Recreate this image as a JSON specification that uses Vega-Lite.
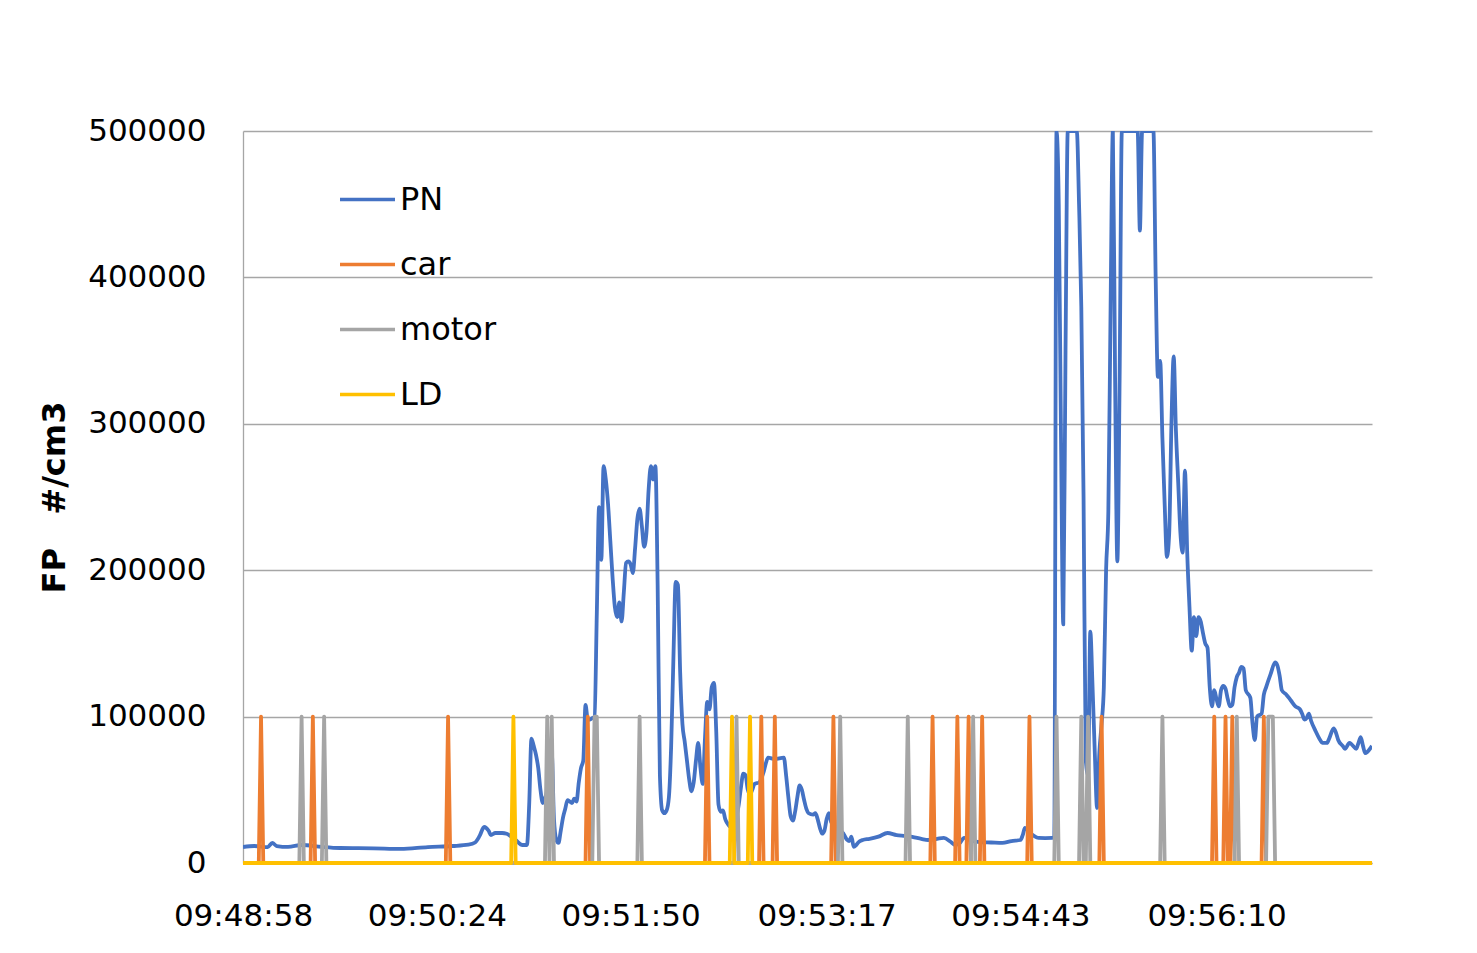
{
  "$schema": "https://vega.github.io/schema/vega-lite/v6.json",
  "width": 1129,
  "height": 732,
  "autosize": {"type": "none"},
  "padding": {"left": 243, "top": 131, "right": 105, "bottom": 90},
  "background": "white",
  "config": {
    "view": {"stroke": null},
    "font": "DejaVu Sans",
    "axis": {"labelFont": "DejaVu Sans", "labelFontSize": 31, "labelColor": "#000000", "ticks": false, "tickSize": 0}
  },
  "data": {
    "values": [
      {"t":"09:48:58","s":"PN","v":10900},{"t":"09:49:03","s":"PN","v":11600},{"t":"09:49:09","s":"PN","v":10900},{"t":"09:49:11","s":"PN","v":13700},{"t":"09:49:13","s":"PN","v":11600},{"t":"09:49:18","s":"PN","v":11000},{"t":"09:49:24","s":"PN","v":12300},{"t":"09:49:33","s":"PN","v":11000},{"t":"09:49:41","s":"PN","v":10250},{"t":"09:49:56","s":"PN","v":10000},{"t":"09:50:08","s":"PN","v":9600},{"t":"09:50:20","s":"PN","v":10900},{"t":"09:50:31","s":"PN","v":11600},{"t":"09:50:38","s":"PN","v":12500},{"t":"09:50:41","s":"PN","v":14000},{"t":"09:50:43","s":"PN","v":18500},{"t":"09:50:45","s":"PN","v":24600},{"t":"09:50:47","s":"PN","v":22000},{"t":"09:50:48","s":"PN","v":19100},{"t":"09:50:50","s":"PN","v":20500},{"t":"09:50:53","s":"PN","v":20500},{"t":"09:50:55","s":"PN","v":20000},{"t":"09:50:57","s":"PN","v":18000},{"t":"09:50:59","s":"PN","v":15700},{"t":"09:51:02","s":"PN","v":12300},{"t":"09:51:04","s":"PN","v":12300},{"t":"09:51:05","s":"PN","v":40000},{"t":"09:51:06","s":"PN","v":85000},{"t":"09:51:07","s":"PN","v":80000},{"t":"09:51:08","s":"PN","v":74000},{"t":"09:51:09","s":"PN","v":65000},{"t":"09:51:10","s":"PN","v":50000},{"t":"09:51:11","s":"PN","v":41000},{"t":"09:51:12","s":"PN","v":44400},{"t":"09:51:13","s":"PN","v":50000},{"t":"09:51:14","s":"PN","v":65000},{"t":"09:51:15","s":"PN","v":75000},{"t":"09:51:16","s":"PN","v":30000},{"t":"09:51:17","s":"PN","v":16000},{"t":"09:51:18","s":"PN","v":13700},{"t":"09:51:19","s":"PN","v":22000},{"t":"09:51:20","s":"PN","v":31000},{"t":"09:51:21","s":"PN","v":37000},{"t":"09:51:22","s":"PN","v":43000},{"t":"09:51:23","s":"PN","v":42000},{"t":"09:51:24","s":"PN","v":41000},{"t":"09:51:25","s":"PN","v":44000},{"t":"09:51:26","s":"PN","v":42000},{"t":"09:51:27","s":"PN","v":55000},{"t":"09:51:28","s":"PN","v":65000},{"t":"09:51:29","s":"PN","v":70000},{"t":"09:51:30","s":"PN","v":108000},{"t":"09:51:31","s":"PN","v":98000},{"t":"09:51:32","s":"PN","v":98000},{"t":"09:51:33","s":"PN","v":99000},{"t":"09:51:34","s":"PN","v":100000},{"t":"09:51:35","s":"PN","v":170000},{"t":"09:51:36","s":"PN","v":243000},{"t":"09:51:37","s":"PN","v":207000},{"t":"09:51:38","s":"PN","v":271000},{"t":"09:51:39","s":"PN","v":262000},{"t":"09:51:40","s":"PN","v":245000},{"t":"09:51:41","s":"PN","v":220000},{"t":"09:51:42","s":"PN","v":195000},{"t":"09:51:43","s":"PN","v":175000},{"t":"09:51:44","s":"PN","v":168000},{"t":"09:51:45","s":"PN","v":178000},{"t":"09:51:46","s":"PN","v":165000},{"t":"09:51:47","s":"PN","v":185000},{"t":"09:51:48","s":"PN","v":205000},{"t":"09:51:49","s":"PN","v":206000},{"t":"09:51:50","s":"PN","v":204000},{"t":"09:51:51","s":"PN","v":198000},{"t":"09:51:52","s":"PN","v":215000},{"t":"09:51:53","s":"PN","v":235000},{"t":"09:51:54","s":"PN","v":242000},{"t":"09:51:55","s":"PN","v":230000},{"t":"09:51:56","s":"PN","v":216000},{"t":"09:51:57","s":"PN","v":225000},{"t":"09:51:58","s":"PN","v":255000},{"t":"09:51:59","s":"PN","v":271000},{"t":"09:52:00","s":"PN","v":262000},{"t":"09:52:01","s":"PN","v":271000},{"t":"09:52:02","s":"PN","v":190000},{"t":"09:52:03","s":"PN","v":60000},{"t":"09:52:04","s":"PN","v":36000},{"t":"09:52:05","s":"PN","v":34000},{"t":"09:52:06","s":"PN","v":36000},{"t":"09:52:07","s":"PN","v":45000},{"t":"09:52:08","s":"PN","v":80000},{"t":"09:52:09","s":"PN","v":140000},{"t":"09:52:10","s":"PN","v":192000},{"t":"09:52:11","s":"PN","v":190000},{"t":"09:52:12","s":"PN","v":130000},{"t":"09:52:13","s":"PN","v":95000},{"t":"09:52:14","s":"PN","v":83000},{"t":"09:52:15","s":"PN","v":70000},{"t":"09:52:16","s":"PN","v":57000},{"t":"09:52:17","s":"PN","v":49000},{"t":"09:52:18","s":"PN","v":55000},{"t":"09:52:19","s":"PN","v":70000},{"t":"09:52:20","s":"PN","v":82000},{"t":"09:52:21","s":"PN","v":65000},{"t":"09:52:22","s":"PN","v":54000},{"t":"09:52:23","s":"PN","v":85000},{"t":"09:52:24","s":"PN","v":110000},{"t":"09:52:25","s":"PN","v":105000},{"t":"09:52:26","s":"PN","v":120000},{"t":"09:52:27","s":"PN","v":123000},{"t":"09:52:28","s":"PN","v":90000},{"t":"09:52:29","s":"PN","v":40000},{"t":"09:52:30","s":"PN","v":35000},{"t":"09:52:31","s":"PN","v":36000},{"t":"09:52:32","s":"PN","v":30000},{"t":"09:52:33","s":"PN","v":27000},{"t":"09:52:34","s":"PN","v":25000},{"t":"09:52:35","s":"PN","v":27000},{"t":"09:52:36","s":"PN","v":30000},{"t":"09:52:37","s":"PN","v":32000},{"t":"09:52:38","s":"PN","v":40000},{"t":"09:52:39","s":"PN","v":52000},{"t":"09:52:40","s":"PN","v":61000},{"t":"09:52:41","s":"PN","v":60000},{"t":"09:52:42","s":"PN","v":50000},{"t":"09:52:43","s":"PN","v":47000},{"t":"09:52:44","s":"PN","v":50000},{"t":"09:52:45","s":"PN","v":54000},{"t":"09:52:47","s":"PN","v":55000},{"t":"09:52:49","s":"PN","v":62000},{"t":"09:52:50","s":"PN","v":68000},{"t":"09:52:51","s":"PN","v":72000},{"t":"09:52:54","s":"PN","v":71000},{"t":"09:52:58","s":"PN","v":72000},{"t":"09:52:59","s":"PN","v":60000},{"t":"09:53:00","s":"PN","v":45000},{"t":"09:53:01","s":"PN","v":32000},{"t":"09:53:02","s":"PN","v":29000},{"t":"09:53:03","s":"PN","v":35000},{"t":"09:53:04","s":"PN","v":45000},{"t":"09:53:05","s":"PN","v":53000},{"t":"09:53:06","s":"PN","v":50000},{"t":"09:53:07","s":"PN","v":43000},{"t":"09:53:08","s":"PN","v":37000},{"t":"09:53:09","s":"PN","v":34000},{"t":"09:53:11","s":"PN","v":33000},{"t":"09:53:12","s":"PN","v":34000},{"t":"09:53:13","s":"PN","v":30000},{"t":"09:53:14","s":"PN","v":24000},{"t":"09:53:15","s":"PN","v":20000},{"t":"09:53:16","s":"PN","v":22000},{"t":"09:53:17","s":"PN","v":30000},{"t":"09:53:18","s":"PN","v":34000},{"t":"09:53:19","s":"PN","v":28000},{"t":"09:53:20","s":"PN","v":26000},{"t":"09:53:22","s":"PN","v":22000},{"t":"09:53:24","s":"PN","v":21000},{"t":"09:53:26","s":"PN","v":16000},{"t":"09:53:27","s":"PN","v":15000},{"t":"09:53:28","s":"PN","v":18000},{"t":"09:53:29","s":"PN","v":11000},{"t":"09:53:30","s":"PN","v":12000},{"t":"09:53:31","s":"PN","v":14000},{"t":"09:53:33","s":"PN","v":15700},{"t":"09:53:36","s":"PN","v":16500},{"t":"09:53:40","s":"PN","v":18000},{"t":"09:53:44","s":"PN","v":20500},{"t":"09:53:48","s":"PN","v":19100},{"t":"09:53:52","s":"PN","v":18500},{"t":"09:53:55","s":"PN","v":17800},{"t":"09:53:59","s":"PN","v":16500},{"t":"09:54:02","s":"PN","v":15700},{"t":"09:54:06","s":"PN","v":16500},{"t":"09:54:09","s":"PN","v":17100},{"t":"09:54:12","s":"PN","v":14500},{"t":"09:54:14","s":"PN","v":12300},{"t":"09:54:16","s":"PN","v":13500},{"t":"09:54:18","s":"PN","v":17100},{"t":"09:54:21","s":"PN","v":15500},{"t":"09:54:25","s":"PN","v":14300},{"t":"09:54:30","s":"PN","v":14000},{"t":"09:54:35","s":"PN","v":13700},{"t":"09:54:39","s":"PN","v":15000},{"t":"09:54:43","s":"PN","v":15700},{"t":"09:54:44","s":"PN","v":19000},{"t":"09:54:45","s":"PN","v":23900},{"t":"09:54:47","s":"PN","v":21000},{"t":"09:54:49","s":"PN","v":18500},{"t":"09:54:51","s":"PN","v":17100},{"t":"09:54:54","s":"PN","v":17000},{"t":"09:54:57","s":"PN","v":17100},{"t":"09:54:58","s":"PN","v":18000},{"t":"09:54:59","s":"PN","v":500000},{"t":"09:55:00","s":"PN","v":450000},{"t":"09:55:01","s":"PN","v":290000},{"t":"09:55:02","s":"PN","v":163000},{"t":"09:55:03","s":"PN","v":350000},{"t":"09:55:04","s":"PN","v":500000},{"t":"09:55:08","s":"PN","v":500000},{"t":"09:55:09","s":"PN","v":450000},{"t":"09:55:10","s":"PN","v":380000},{"t":"09:55:11","s":"PN","v":250000},{"t":"09:55:12","s":"PN","v":70000},{"t":"09:55:13","s":"PN","v":60000},{"t":"09:55:14","s":"PN","v":158000},{"t":"09:55:15","s":"PN","v":120000},{"t":"09:55:16","s":"PN","v":75000},{"t":"09:55:17","s":"PN","v":37600},{"t":"09:55:18","s":"PN","v":75000},{"t":"09:55:19","s":"PN","v":95000},{"t":"09:55:20","s":"PN","v":120000},{"t":"09:55:21","s":"PN","v":200000},{"t":"09:55:22","s":"PN","v":240000},{"t":"09:55:23","s":"PN","v":380000},{"t":"09:55:24","s":"PN","v":500000},{"t":"09:55:25","s":"PN","v":330000},{"t":"09:55:26","s":"PN","v":206000},{"t":"09:55:27","s":"PN","v":330000},{"t":"09:55:28","s":"PN","v":500000},{"t":"09:55:35","s":"PN","v":500000},{"t":"09:55:36","s":"PN","v":432000},{"t":"09:55:37","s":"PN","v":500000},{"t":"09:55:42","s":"PN","v":500000},{"t":"09:55:43","s":"PN","v":400000},{"t":"09:55:44","s":"PN","v":332000},{"t":"09:55:45","s":"PN","v":343000},{"t":"09:55:46","s":"PN","v":290000},{"t":"09:55:47","s":"PN","v":245000},{"t":"09:55:48","s":"PN","v":209000},{"t":"09:55:49","s":"PN","v":225000},{"t":"09:55:50","s":"PN","v":300000},{"t":"09:55:51","s":"PN","v":346000},{"t":"09:55:52","s":"PN","v":295000},{"t":"09:55:53","s":"PN","v":260000},{"t":"09:55:54","s":"PN","v":225000},{"t":"09:55:55","s":"PN","v":212000},{"t":"09:55:56","s":"PN","v":268000},{"t":"09:55:57","s":"PN","v":212000},{"t":"09:55:58","s":"PN","v":175000},{"t":"09:55:59","s":"PN","v":145000},{"t":"09:56:00","s":"PN","v":168000},{"t":"09:56:01","s":"PN","v":155000},{"t":"09:56:02","s":"PN","v":168000},{"t":"09:56:03","s":"PN","v":165000},{"t":"09:56:04","s":"PN","v":157000},{"t":"09:56:05","s":"PN","v":150000},{"t":"09:56:06","s":"PN","v":147000},{"t":"09:56:07","s":"PN","v":120000},{"t":"09:56:08","s":"PN","v":107000},{"t":"09:56:09","s":"PN","v":118000},{"t":"09:56:10","s":"PN","v":112000},{"t":"09:56:11","s":"PN","v":107000},{"t":"09:56:12","s":"PN","v":118000},{"t":"09:56:13","s":"PN","v":121000},{"t":"09:56:14","s":"PN","v":119000},{"t":"09:56:15","s":"PN","v":112000},{"t":"09:56:16","s":"PN","v":107000},{"t":"09:56:17","s":"PN","v":108000},{"t":"09:56:18","s":"PN","v":120000},{"t":"09:56:19","s":"PN","v":127000},{"t":"09:56:20","s":"PN","v":130000},{"t":"09:56:21","s":"PN","v":134000},{"t":"09:56:22","s":"PN","v":133000},{"t":"09:56:23","s":"PN","v":118000},{"t":"09:56:25","s":"PN","v":113000},{"t":"09:56:26","s":"PN","v":95000},{"t":"09:56:27","s":"PN","v":84000},{"t":"09:56:28","s":"PN","v":100000},{"t":"09:56:30","s":"PN","v":102000},{"t":"09:56:31","s":"PN","v":115000},{"t":"09:56:32","s":"PN","v":120000},{"t":"09:56:34","s":"PN","v":129000},{"t":"09:56:36","s":"PN","v":137000},{"t":"09:56:37","s":"PN","v":135000},{"t":"09:56:38","s":"PN","v":128000},{"t":"09:56:39","s":"PN","v":118000},{"t":"09:56:41","s":"PN","v":115000},{"t":"09:56:43","s":"PN","v":111000},{"t":"09:56:45","s":"PN","v":107000},{"t":"09:56:47","s":"PN","v":105000},{"t":"09:56:48","s":"PN","v":102000},{"t":"09:56:49","s":"PN","v":98000},{"t":"09:56:50","s":"PN","v":99000},{"t":"09:56:51","s":"PN","v":102000},{"t":"09:56:52","s":"PN","v":97000},{"t":"09:56:54","s":"PN","v":90000},{"t":"09:56:56","s":"PN","v":84000},{"t":"09:56:57","s":"PN","v":82000},{"t":"09:56:59","s":"PN","v":82000},{"t":"09:57:00","s":"PN","v":85000},{"t":"09:57:02","s":"PN","v":92000},{"t":"09:57:03","s":"PN","v":89000},{"t":"09:57:04","s":"PN","v":84000},{"t":"09:57:06","s":"PN","v":80000},{"t":"09:57:07","s":"PN","v":78000},{"t":"09:57:09","s":"PN","v":82000},{"t":"09:57:10","s":"PN","v":81000},{"t":"09:57:12","s":"PN","v":78000},{"t":"09:57:13","s":"PN","v":82000},{"t":"09:57:14","s":"PN","v":86000},{"t":"09:57:15","s":"PN","v":80000},{"t":"09:57:16","s":"PN","v":75000},{"t":"09:57:17","s":"PN","v":76000},{"t":"09:57:19","s":"PN","v":80000},

      {"t":"09:48:58","s":"car","v":0},
      {"t":"09:49:05","s":"car","v":0},{"t":"09:49:06","s":"car","v":100000},{"t":"09:49:07","s":"car","v":0},
      {"t":"09:49:28","s":"car","v":0},{"t":"09:49:29","s":"car","v":100000},{"t":"09:49:30","s":"car","v":0},
      {"t":"09:50:28","s":"car","v":0},{"t":"09:50:29","s":"car","v":100000},{"t":"09:50:30","s":"car","v":0},
      {"t":"09:51:30","s":"car","v":0},{"t":"09:51:31","s":"car","v":100000},{"t":"09:51:32","s":"car","v":0},
      {"t":"09:52:23","s":"car","v":0},{"t":"09:52:24","s":"car","v":100000},{"t":"09:52:25","s":"car","v":0},
      {"t":"09:52:47","s":"car","v":0},{"t":"09:52:48","s":"car","v":100000},{"t":"09:52:49","s":"car","v":0},
      {"t":"09:52:53","s":"car","v":0},{"t":"09:52:54","s":"car","v":100000},{"t":"09:52:55","s":"car","v":0},
      {"t":"09:53:19","s":"car","v":0},{"t":"09:53:20","s":"car","v":100000},{"t":"09:53:21","s":"car","v":0},
      {"t":"09:54:03","s":"car","v":0},{"t":"09:54:04","s":"car","v":100000},{"t":"09:54:05","s":"car","v":0},
      {"t":"09:54:14","s":"car","v":0},{"t":"09:54:15","s":"car","v":100000},{"t":"09:54:16","s":"car","v":0},
      {"t":"09:54:19","s":"car","v":0},{"t":"09:54:20","s":"car","v":100000},{"t":"09:54:21","s":"car","v":0},
      {"t":"09:54:25","s":"car","v":0},{"t":"09:54:26","s":"car","v":100000},{"t":"09:54:27","s":"car","v":0},
      {"t":"09:54:46","s":"car","v":0},{"t":"09:54:47","s":"car","v":100000},{"t":"09:54:48","s":"car","v":0},
      {"t":"09:55:18","s":"car","v":0},{"t":"09:55:19","s":"car","v":100000},{"t":"09:55:20","s":"car","v":0},
      {"t":"09:56:08","s":"car","v":0},{"t":"09:56:09","s":"car","v":100000},{"t":"09:56:10","s":"car","v":0},
      {"t":"09:56:13","s":"car","v":0},{"t":"09:56:14","s":"car","v":100000},{"t":"09:56:15","s":"car","v":0},
      {"t":"09:56:16","s":"car","v":0},{"t":"09:56:17","s":"car","v":100000},{"t":"09:56:18","s":"car","v":0},
      {"t":"09:56:30","s":"car","v":0},{"t":"09:56:31","s":"car","v":100000},{"t":"09:56:32","s":"car","v":0},
      {"t":"09:57:19","s":"car","v":0},

      {"t":"09:48:58","s":"motor","v":0},
      {"t":"09:49:23","s":"motor","v":0},{"t":"09:49:24","s":"motor","v":100000},{"t":"09:49:25","s":"motor","v":0},
      {"t":"09:49:33","s":"motor","v":0},{"t":"09:49:34","s":"motor","v":100000},{"t":"09:49:35","s":"motor","v":0},
      {"t":"09:51:12","s":"motor","v":0},{"t":"09:51:13","s":"motor","v":100000},{"t":"09:51:14","s":"motor","v":0},{"t":"09:51:15","s":"motor","v":100000},{"t":"09:51:16","s":"motor","v":0},
      {"t":"09:51:33","s":"motor","v":0},{"t":"09:51:34","s":"motor","v":100000},{"t":"09:51:35","s":"motor","v":100000},{"t":"09:51:36","s":"motor","v":0},
      {"t":"09:51:53","s":"motor","v":0},{"t":"09:51:54","s":"motor","v":100000},{"t":"09:51:55","s":"motor","v":0},
      {"t":"09:52:36","s":"motor","v":0},{"t":"09:52:37","s":"motor","v":100000},{"t":"09:52:38","s":"motor","v":0},
      {"t":"09:53:22","s":"motor","v":0},{"t":"09:53:23","s":"motor","v":100000},{"t":"09:53:24","s":"motor","v":0},
      {"t":"09:53:52","s":"motor","v":0},{"t":"09:53:53","s":"motor","v":100000},{"t":"09:53:54","s":"motor","v":0},
      {"t":"09:54:21","s":"motor","v":0},{"t":"09:54:22","s":"motor","v":100000},{"t":"09:54:23","s":"motor","v":0},
      {"t":"09:54:58","s":"motor","v":0},{"t":"09:54:59","s":"motor","v":100000},{"t":"09:55:00","s":"motor","v":0},
      {"t":"09:55:09","s":"motor","v":0},{"t":"09:55:10","s":"motor","v":100000},{"t":"09:55:11","s":"motor","v":0},
      {"t":"09:55:12","s":"motor","v":0},{"t":"09:55:13","s":"motor","v":100000},{"t":"09:55:14","s":"motor","v":0},
      {"t":"09:55:45","s":"motor","v":0},{"t":"09:55:46","s":"motor","v":100000},{"t":"09:55:47","s":"motor","v":0},
      {"t":"09:56:18","s":"motor","v":0},{"t":"09:56:19","s":"motor","v":100000},{"t":"09:56:20","s":"motor","v":0},
      {"t":"09:56:32","s":"motor","v":0},{"t":"09:56:33","s":"motor","v":100000},{"t":"09:56:34","s":"motor","v":100000},{"t":"09:56:35","s":"motor","v":100000},{"t":"09:56:36","s":"motor","v":0},
      {"t":"09:57:19","s":"motor","v":0},

      {"t":"09:48:58","s":"LD","v":0},
      {"t":"09:50:57","s":"LD","v":0},{"t":"09:50:58","s":"LD","v":100000},{"t":"09:50:59","s":"LD","v":0},
      {"t":"09:52:34","s":"LD","v":0},{"t":"09:52:35","s":"LD","v":100000},{"t":"09:52:36","s":"LD","v":0},
      {"t":"09:52:42","s":"LD","v":0},{"t":"09:52:43","s":"LD","v":100000},{"t":"09:52:44","s":"LD","v":0},
      {"t":"09:57:19","s":"LD","v":0}
    ],
    "format": {"parse": {"t": "utc:'%H:%M:%S'"}}
  },
  "encoding": {
    "x": {
      "field": "t",
      "type": "temporal",
      "scale": {
        "type": "utc",
        "nice": false,
        "domain": [
          {"year": 1900, "month": 1, "date": 1, "hours": 9, "minutes": 48, "seconds": 58, "utc": true},
          {"year": 1900, "month": 1, "date": 1, "hours": 9, "minutes": 57, "seconds": 19, "utc": true}
        ]
      },
      "axis": {
        "title": null,
        "format": "%H:%M:%S",
        "values": [
          {"year": 1900, "month": 1, "date": 1, "hours": 9, "minutes": 48, "seconds": 58, "utc": true},
          {"year": 1900, "month": 1, "date": 1, "hours": 9, "minutes": 50, "seconds": 24, "utc": true},
          {"year": 1900, "month": 1, "date": 1, "hours": 9, "minutes": 51, "seconds": 50, "utc": true},
          {"year": 1900, "month": 1, "date": 1, "hours": 9, "minutes": 53, "seconds": 17, "utc": true},
          {"year": 1900, "month": 1, "date": 1, "hours": 9, "minutes": 54, "seconds": 43, "utc": true},
          {"year": 1900, "month": 1, "date": 1, "hours": 9, "minutes": 56, "seconds": 10, "utc": true}
        ],
        "grid": false,
        "domain": true,
        "domainColor": "#a6a6a6",
        "domainWidth": 1.3,
        "labelPadding": 38,
        "labelFlush": false,
        "labelOverlap": false,
        "labelAngle": 0
      }
    },
    "y": {
      "field": "v",
      "type": "quantitative",
      "scale": {"domain": [0, 500000], "nice": false},
      "axis": {
        "title": "FP\u00a0\u00a0\u00a0#/cm3",
        "titleFont": "DejaVu Sans",
        "titleFontSize": 32,
        "titleFontWeight": "bold",
        "titleColor": "#000000",
        "titlePadding": 16,
        "values": [0, 100000, 200000, 300000, 400000, 500000],
        "format": "d",
        "grid": true,
        "gridColor": "#a6a6a6",
        "gridWidth": 1.3,
        "domain": true,
        "domainColor": "#a6a6a6",
        "domainWidth": 1.3,
        "labelPadding": 37
      }
    },
    "color": {
      "field": "s",
      "type": "nominal",
      "scale": {"domain": ["PN", "car", "motor", "LD"], "range": ["#4472C4", "#ED7D31", "#A5A5A5", "#FFC000"]},
      "legend": {
        "title": null,
        "orient": "none",
        "legendX": 95,
        "legendY": 39,
        "padding": 0,
        "symbolType": "stroke",
        "symbolSize": 3025,
        "symbolStrokeWidth": 3.5,
        "labelFont": "DejaVu Sans",
        "labelFontSize": 32,
        "labelColor": "#000000",
        "labelOffset": 3,
        "rowPadding": 19
      }
    }
  },
  "layer": [
    {"transform": [{"filter": "datum.s === 'PN'"}], "mark": {"type": "line", "strokeWidth": 3.8, "interpolate": "monotone", "clip": true, "strokeJoin": "round"}},
    {"transform": [{"filter": "datum.s === 'car'"}], "mark": {"type": "line", "strokeWidth": 3.8, "strokeJoin": "round"}},
    {"transform": [{"filter": "datum.s === 'motor'"}], "mark": {"type": "line", "strokeWidth": 3.8, "strokeJoin": "round"}},
    {"transform": [{"filter": "datum.s === 'LD'"}], "mark": {"type": "line", "strokeWidth": 3.8, "strokeJoin": "round"}}
  ]
}
